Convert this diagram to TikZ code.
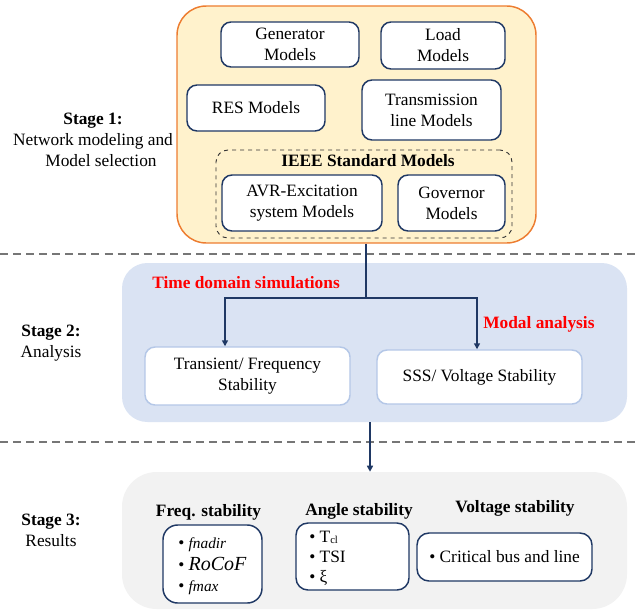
\documentclass[tikz,border=0pt]{standalone}
\usepackage{fontspec}
\setmainfont{Liberation Serif}[Ligatures=TeX]
\newfontfamily\tnr{Liberation Serif}
\usepackage{tikz}
\usetikzlibrary{arrows.meta, positioning, calc}
\definecolor{cNavy}{RGB}{31,56,100}
\definecolor{cOrange}{RGB}{237,125,49}
\definecolor{cCream}{RGB}{255,242,204}
\definecolor{cPale}{RGB}{218,227,243}
\definecolor{cEdge}{RGB}{180,199,231}
\definecolor{cGrey}{RGB}{242,242,242}
\definecolor{cDash}{RGB}{118,118,118}
\definecolor{cRed}{RGB}{255,0,0}
\tikzset{
	stageone/.style ={rectangle, rounded corners=22pt, draw=cOrange, line width=1.1pt, fill=cCream, inner sep=0pt},
	stagetwo/.style ={rectangle, rounded corners=19pt, fill=cPale, inner sep=0pt},
	stagethree/.style={rectangle, rounded corners=26pt, fill=cGrey, inner sep=0pt},
	model/.style    ={rectangle, rounded corners=7.5pt, draw=cNavy, line width=1.1pt, fill=white, align=center, inner sep=0pt},
	ieee/.style     ={rectangle, rounded corners=9pt, draw=black!80, dashed, line width=0.7pt, inner sep=0pt},
	study/.style    ={rectangle, rounded corners=7.5pt, draw=cEdge, line width=1.1pt, fill=white, align=center, inner sep=0pt},
	result/.style   ={rectangle, rounded corners=9pt, draw=cNavy, line width=1.1pt, fill=white, align=left, inner sep=0pt},
	stagelbl/.style ={align=center},
	method/.style   ={text=cRed, font=\tnr\fontsize{13}{15.75}\selectfont\bfseries, anchor=west, inner sep=0pt},
	heading/.style  ={font=\tnr\fontsize{13}{15.75}\selectfont\bfseries},
	sig/.style      ={-{Triangle[length=4.5pt, width=4.5pt]}, draw=cNavy, line width=1.1pt},
	sepline/.style  ={draw=cDash, line width=1.2pt, dash pattern=on 6pt off 3.8pt},
}
\begin{document}
\begin{tikzpicture}[x=0.75pt, y=-0.75pt, font=\tnr\fontsize{13}{15.75}\selectfont]
	\useasboundingbox (0,0) rectangle (638,610);
	% separators
	\draw[sepline] (0,254) -- (638,254);
	\draw[sepline] (0,442) -- (638,442);
	% stage 1
	\node[stageone, minimum width=269.25pt, minimum height=177.75pt] (stage1) at (356.5,124.5) {};
	\node[model, minimum width=103.5pt, minimum height=33.75pt] (gen) at (290,44.5) {Generator\\Models};
	\node[model, minimum width=93pt, minimum height=35.25pt] (load) at (443,45.5) {Load\\Models};
	\node[model, minimum width=103.5pt, minimum height=34.5pt] (res) at (256,108) {RES Models};
	\node[model, minimum width=104.25pt, minimum height=45pt] (trans) at (431.5,110) {Transmission\\line Models};
	\node[ieee, minimum width=222pt, minimum height=66pt] (std) at (364,194) {};
	\node[heading, inner sep=0pt] (stdlbl) at (368,161) {IEEE Standard Models};
	\node[model, minimum width=120pt, minimum height=42pt] (avr) at (302,203) {AVR-Excitation\\system Models};
	\node[model, minimum width=80.25pt, minimum height=42pt] (gov) at (451.5,203) {Governor\\Models};
	\node[stagelbl] (lbl1) at (93,140) {\textbf{Stage 1:}\\Network modeling and\\\hspace*{12pt}Model selection};
	% stage 2
	\node[stagetwo, minimum width=378.75pt, minimum height=119.25pt] (stage2) at (374.5,342.5) {};
	\node[study, minimum width=153.75pt, minimum height=43.5pt] (trstab) at (247.5,376) {Transient/ Frequency\\Stability};
	\node[study, minimum width=153.75pt, minimum height=40.5pt] (sss) at (479.5,377) {SSS/ Voltage Stability};
	\node[method] (tds) at (152,283) {Time domain simulations};
	\node[method] (modal) at (483,324) {Modal analysis};
	\node[stagelbl] (lbl2) at (51,343.5) {\textbf{Stage 2:}\\Analysis};
	\coordinate (split) at (366,298);
	\draw[draw=cNavy, line width=1.1pt] (stage1.south -| split) -- (split);
	\draw[sig] (split) -| ($(trstab.north)+(-22.5,0)$);
	\draw[sig] (split) -| ($(sss.north)+(-2.5,0)$);
	% stage 3
	\node[stagethree, minimum width=378.75pt, minimum height=102.75pt] (stage3) at (374.5,540.5) {};
	\draw[sig] ($(stage2.south)+(-4.5,0)$) -- ($(stage3.north)+(-4.5,0)$);
	\node[stagelbl] (lbl3) at (51,530.5) {\textbf{Stage 3:}\\Results};
	\node[heading] (freqlbl) at (208.5,512) {Freq. stability};
	\node[heading] (anglbl) at (359,511) {Angle stability};
	\node[heading] (vollbl) at (515,508) {Voltage stability};
	\node[result, minimum width=74.25pt, minimum height=58.5pt, rounded corners=11pt] (freq) at (212.5,564) {};
	\node[anchor=west, align=left, inner sep=0pt] (freqitems) at (178,566.5)
		{\textbullet\ {\fontsize{11.5}{15.75}\selectfont\itshape fnadir}\\[0.5pt]
		 \textbullet\ {\fontsize{15}{15.75}\selectfont\itshape RoCoF}\\[0.5pt]
		 \textbullet\ {\fontsize{11.5}{15.75}\selectfont\itshape fmax}};
	\node[result, minimum width=84.75pt, minimum height=50.25pt] (angle) at (352.5,556.5) {};
	\node[anchor=west, align=left, inner sep=0pt] (angitems) at (309,558.5)
		{\textbullet\ T\raisebox{-0.8pt}{\fontsize{8}{8}\selectfont cl}\\[-0.5pt]
		 \textbullet\ TSI\\[-0.5pt]
		 \textbullet\ ξ};
	\node[result, minimum width=131.25pt, minimum height=36pt] (volt) at (504.5,557) {\textbullet\ Critical bus and line};
\end{tikzpicture}
\end{document}
